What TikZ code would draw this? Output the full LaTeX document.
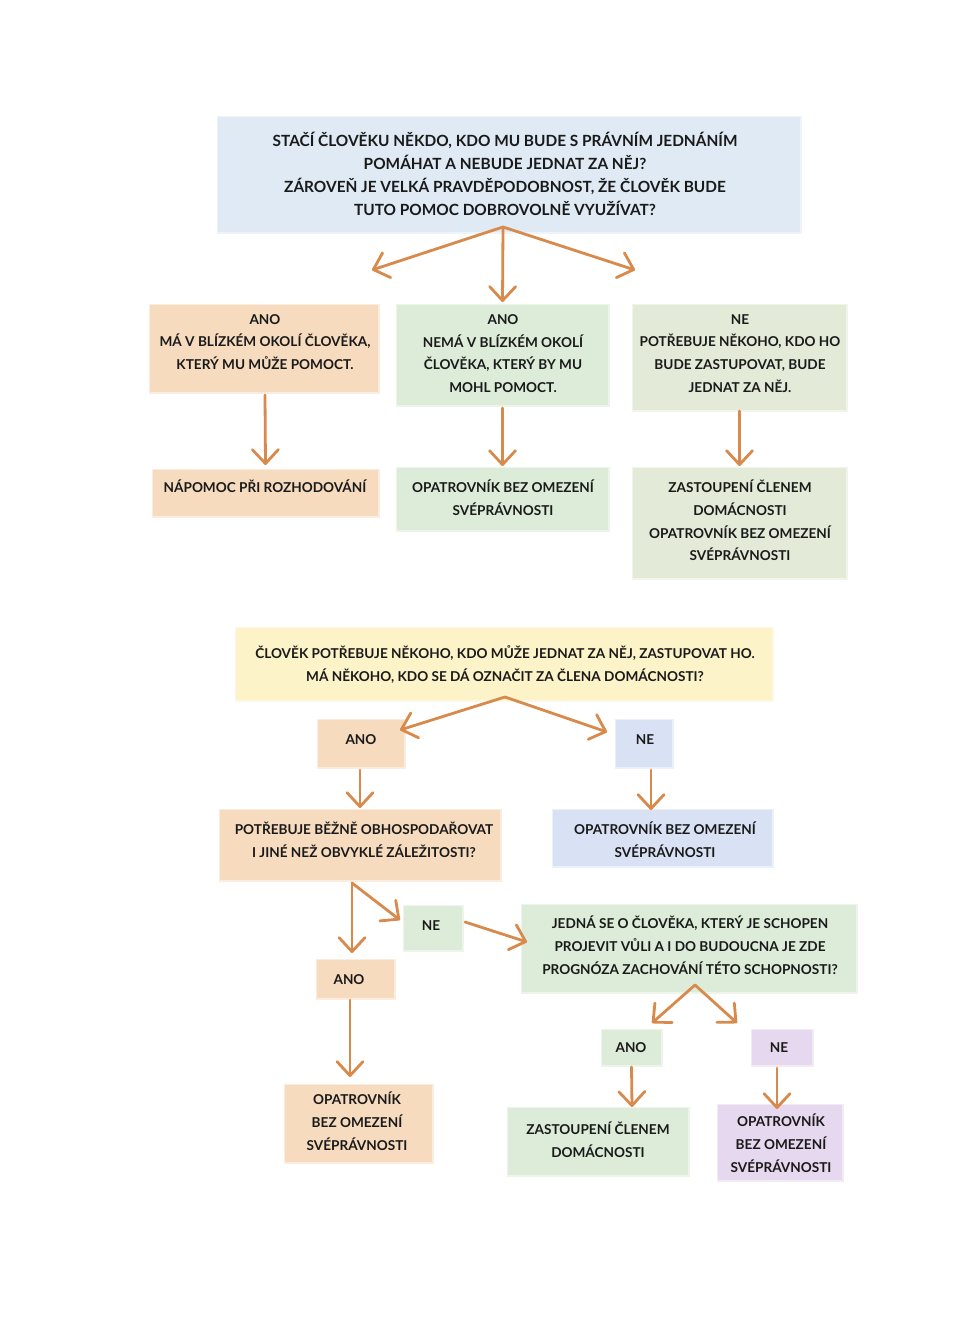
\documentclass[tikz,border=0pt]{standalone}
\usepackage{fontspec}
\setmainfont{Lato}
\usetikzlibrary{arrows.meta}
\definecolor{cblue}{HTML}{DFEAF4}
\definecolor{cpeach}{HTML}{F6DBBF}
\definecolor{cgreen}{HTML}{DCECD9}
\definecolor{cgrey}{HTML}{E3EAD8}
\definecolor{cyellow}{HTML}{FCF3C8}
\definecolor{cblue2}{HTML}{D9E2F4}
\definecolor{cpurple}{HTML}{E6D8EE}
\definecolor{carrow}{HTML}{D88A4C}
\definecolor{ink}{HTML}{1A1A1A}
\begin{document}
\begin{tikzpicture}[x=1pt,y=-1pt,
  bx/.style={inner sep=0pt, outer sep=0pt, fill=#1, draw=#1, draw opacity=0.5, line width=3pt},
  txt/.style={align=center, font=\fontsize{13.6}{22.8}\selectfont\bfseries, text=ink, inner sep=0pt},
  bigtxt/.style={txt, font=\fontsize{15.4}{23}\selectfont\bfseries},
  arr/.style={draw=carrow, line width=2.8pt, line cap=round, line join=round,
    -{Straight Barb[length=14pt,width=26pt,line width=2.8pt,round]}}]
\useasboundingbox[fill=white] (0,0) rectangle (974,1333);

% ---------- top chart ----------
\node[bx=cblue, minimum width=582pt, minimum height=115pt] (Q1) at (509,174.5) {};
\node[bigtxt] (Q1t) at (505,173.5) {STAČÍ ČLOVĚKU NĚKDO, KDO MU BUDE S PRÁVNÍM JEDNÁNÍM\\POMÁHAT A NEBUDE JEDNAT ZA NĚJ?\\ZÁROVEŇ JE VELKÁ PRAVDĚPODOBNOST, ŽE ČLOVĚK BUDE\\TUTO POMOC DOBROVOLNĚ VYUŽÍVAT?};

\node[bx=cpeach, minimum width=228pt, minimum height=87pt] (A) at (264,348.5) {};
\node[txt] (At) at (265,342) {ANO\\MÁ V BLÍZKÉM OKOLÍ ČLOVĚKA,\\KTERÝ MU MŮŽE POMOCT.};
\node[bx=cgreen, minimum width=211pt, minimum height=100pt] (B) at (502.5,355) {};
\node[txt] (Bt) at (503,353.5) {ANO\\NEMÁ V BLÍZKÉM OKOLÍ\\ČLOVĚKA, KTERÝ BY MU\\MOHL POMOCT.};
\node[bx=cgrey, minimum width=213pt, minimum height=105pt] (C) at (739.5,357.5) {};
\node[txt] (Ct) at (740,353.5) {NE\\POTŘEBUJE NĚKOHO, KDO HO\\BUDE ZASTUPOVAT, BUDE\\JEDNAT ZA NĚJ.};

\node[bx=cpeach, minimum width=225pt, minimum height=46pt] (D) at (265.5,493) {};
\node[txt] (Dt) at (265,486) {NÁPOMOC PŘI ROZHODOVÁNÍ};
\node[bx=cgreen, minimum width=211pt, minimum height=62pt] (E) at (502.5,499) {};
\node[txt] (Et) at (503,497.5) {OPATROVNÍK BEZ OMEZENÍ\\SVÉPRÁVNOSTI};
\node[bx=cgrey, minimum width=213pt, minimum height=110pt] (F) at (739.5,523) {};
\node[txt] (Ft) at (740,520.5) {ZASTOUPENÍ ČLENEM\\DOMÁCNOSTI\\OPATROVNÍK BEZ OMEZENÍ\\SVÉPRÁVNOSTI};

\coordinate (ta) at (372,270);
\coordinate (tc) at (635,270);
\draw[arr] ([xshift=-6pt,yshift=5pt]Q1.south) -- (ta);
\draw[arr] ([xshift=-6pt,yshift=5pt]Q1.south) -- ([yshift=3pt]B.north);
\draw[arr] ([xshift=-6pt,yshift=5pt]Q1.south) -- (tc);
\draw[arr] ([xshift=1pt,yshift=-3pt]A.south) -- ([yshift=5pt]D.north);
\draw[arr] ([yshift=-3pt]B.south) -- ([yshift=2pt]E.north);
\draw[arr] ([yshift=-1pt]C.south) -- ([yshift=2pt]F.north);

% ---------- bottom chart ----------
\node[bx=cyellow, minimum width=536pt, minimum height=72pt] (Q2) at (504,664) {};
\node[txt] (Q2t) at (505,664.5) {ČLOVĚK POTŘEBUJE NĚKOHO, KDO MŮŽE JEDNAT ZA NĚJ, ZASTUPOVAT HO.\\MÁ NĚKOHO, KDO SE DÁ OZNAČIT ZA ČLENA DOMÁCNOSTI?};

\node[bx=cpeach, minimum width=86pt, minimum height=47pt] (ANO2) at (361,743.5) {};
\node[txt] (ANO2t) at (361,740) {ANO};
\node[bx=cblue2, minimum width=56pt, minimum height=47pt] (NE2) at (644,743.5) {};
\node[txt] (NE2t) at (645,740) {NE};

\node[bx=cpeach, minimum width=280pt, minimum height=70pt] (P) at (360,845) {};
\node[txt] (Pt) at (364,839.5) {POTŘEBUJE BĚŽNĚ OBHOSPODAŘOVAT\\I JINÉ NEŽ OBVYKLÉ ZÁLEŽITOSTI?};
\node[bx=cblue2, minimum width=219pt, minimum height=56pt] (O2) at (662.5,838) {};
\node[txt] (O2t) at (665,839.5) {OPATROVNÍK BEZ OMEZENÍ\\SVÉPRÁVNOSTI};

\node[bx=cgreen, minimum width=58pt, minimum height=44pt] (NE3) at (433,928) {};
\node[txt] (NE3t) at (431,926) {NE};
\node[bx=cgreen, minimum width=334pt, minimum height=87pt] (J) at (689,948.5) {};
\node[txt] (Jt) at (690,945.5) {JEDNÁ SE O ČLOVĚKA, KTERÝ JE SCHOPEN\\PROJEVIT VŮLI A I DO BUDOUCNA JE ZDE\\PROGNÓZA ZACHOVÁNÍ TÉTO SCHOPNOSTI?};

\node[bx=cpeach, minimum width=77pt, minimum height=38pt] (ANO3) at (355.5,979) {};
\node[txt] (ANO3t) at (349,980) {ANO};
\node[bx=cpeach, minimum width=147pt, minimum height=77pt] (O3) at (358.5,1123.5) {};
\node[txt] (O3t) at (357,1121.5) {OPATROVNÍK\\BEZ OMEZENÍ\\SVÉPRÁVNOSTI};

\node[bx=cgreen, minimum width=59pt, minimum height=35pt] (ANO4) at (631.5,1047.5) {};
\node[txt] (ANO4t) at (631,1048) {ANO};
\node[bx=cpurple, minimum width=60pt, minimum height=35pt] (NE4) at (782,1047.5) {};
\node[txt] (NE4t) at (779,1048) {NE};

\node[bx=cgreen, minimum width=180pt, minimum height=67pt] (Z) at (598,1141.5) {};
\node[txt] (Zt) at (598,1139.5) {ZASTOUPENÍ ČLENEM\\DOMÁCNOSTI};
\node[bx=cpurple, minimum width=124pt, minimum height=75pt] (O4) at (780,1142.5) {};
\node[txt] (O4t) at (781,1143) {OPATROVNÍK\\BEZ OMEZENÍ\\SVÉPRÁVNOSTI};

\draw[arr] ([xshift=1pt,yshift=3pt]Q2.south) -- ([xshift=-4pt,yshift=-10pt]ANO2.north east);
\draw[arr] ([xshift=1pt,yshift=3pt]Q2.south) -- ([xshift=-9pt,yshift=-12pt]NE2.north west);
\draw[arr] ([xshift=-1pt,yshift=-3pt]ANO2.south) -- ([yshift=2pt]P.north);
\draw[arr] ([xshift=7pt,yshift=-3pt]NE2.south) -- ([xshift=-11.5pt,yshift=0pt]O2.north);
\draw[arr] ([xshift=-8pt,yshift=-3pt]P.south) -- ([xshift=-3.5pt,yshift=7pt]ANO3.north);
\draw[arr] ([xshift=-8pt,yshift=-3pt]P.south) -- ([xshift=-4pt,yshift=8pt]NE3.west);
\draw[arr] ([xshift=3pt,yshift=6pt]NE3.east) -- ([xshift=5pt,yshift=6.5pt]J.west);
\draw[arr] ([xshift=-5.5pt,yshift=-2pt]ANO3.south) -- ([xshift=-8.5pt,yshift=8pt]O3.north);
\draw[arr] ([xshift=6pt,yshift=7pt]J.south) -- ([xshift=20.5pt,yshift=7pt]ANO4.north);
\draw[arr] ([xshift=6pt,yshift=7pt]J.south) -- ([xshift=-45pt,yshift=7pt]NE4.north);
\draw[arr] ([yshift=-2pt]ANO4.south) -- ([xshift=34pt,yshift=1pt]Z.north);
\draw[arr] ([xshift=-5pt,yshift=-3pt]NE4.south) -- ([xshift=-3pt,yshift=-4pt]O4.north);
\end{tikzpicture}
\end{document}
